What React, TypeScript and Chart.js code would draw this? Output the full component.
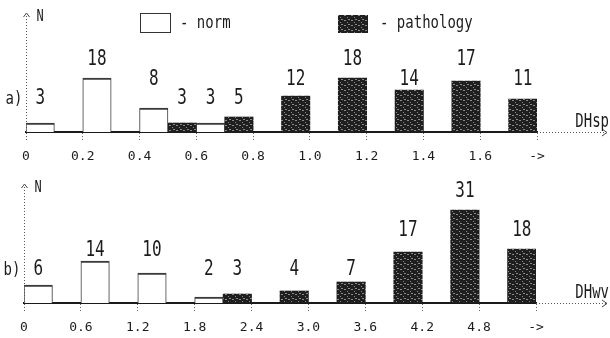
import React, { useEffect, useRef } from "react";
import { Chart, registerables } from "chart.js";
Chart.register(...registerables);

// ---- data ----
const ticksA = ["0", "0.2", "0.4", "0.6", "0.8", "1.0", "1.2", "1.4", "1.6", "->"];
const normA = [3, 18, 8, 3, null, null, null, null, null];
const pathA = [null, null, 3, 5, 12, 18, 14, 17, 11];

const ticksB = ["0", "0.6", "1.2", "1.8", "2.4", "3.0", "3.6", "4.2", "4.8", "->"];
const normB = [6, 14, 10, 2, null, null, null, null, null];
const pathB = [null, null, null, 3, 4, 7, 17, 31, 18];

const seriesNames = ["norm", "pathology"];

const MONO = "'DejaVu Sans Mono', 'Liberation Mono', monospace";
const INK = "#1c1c1c";

function makePattern(): CanvasPattern | string {
  const c = document.createElement("canvas");
  c.width = 7;
  c.height = 5;
  const g = c.getContext("2d");
  if (!g) return "#222";
  g.fillStyle = "#1f1f1f";
  g.fillRect(0, 0, 7, 5);
  g.fillStyle = "#8a8a8a";
  g.fillRect(1, 0, 2, 1);
  g.fillRect(4, 2, 1, 1);
  g.fillRect(5, 4, 2, 1);
  const p = g.createPattern(c, "repeat");
  return p || "#222";
}

function stretchText(ctx: CanvasRenderingContext2D, text: string, x: number, y: number, size: number, align: CanvasTextAlign, sy: number) {
  ctx.save();
  ctx.translate(x, y);
  ctx.scale(1, sy);
  ctx.font = `${size}px ${MONO}`;
  ctx.textAlign = align;
  ctx.textBaseline = "middle";
  ctx.fillStyle = INK;
  ctx.fillText(text, 0, 0);
  ctx.restore();
}

const overlayPlugin = {
  id: "overlay",
  afterDatasetsDraw(chart: any) {
    const ctx = chart.ctx as CanvasRenderingContext2D;
    // value labels, snapped to printer text rows
    chart.data.datasets.forEach((ds: any, di: number) => {
      const meta = chart.getDatasetMeta(di);
      meta.data.forEach((el: any, j: number) => {
        const v = ds.data[j];
        if (v === null || v === undefined) return;
        const h = el.base - el.y;
        let k = 0;
        while (h + 9.5 >= 33 + 19.5 * k) k++;
        const ly = el.base - (33 + 19.5 * k);
        stretchText(ctx, String(v), el.x, ly, 16, "center", 1.3);
      });
    });
  },
  afterDraw(chart: any) {
    const ctx = chart.ctx as CanvasRenderingContext2D;
    const o = chart.options.plugins.overlay;
    const { left, right, top, bottom } = chart.chartArea;
    ctx.save();
    ctx.strokeStyle = "#555";
    ctx.lineWidth = 1;
    ctx.setLineDash([1, 2]);
    // y axis
    ctx.beginPath();
    ctx.moveTo(left + 0.5, bottom + 8);
    ctx.lineTo(left + 0.5, top + 2);
    ctx.stroke();
    // x axis extension
    ctx.beginPath();
    ctx.moveTo(right, bottom + 0.5);
    ctx.lineTo(chart.width - 4, bottom + 0.5);
    ctx.stroke();
    ctx.setLineDash([]);
    // arrow heads
    ctx.strokeStyle = "#444";
    ctx.beginPath();
    ctx.moveTo(left - 2.5, top + 5);
    ctx.lineTo(left + 0.5, top + 1);
    ctx.lineTo(left + 3.5, top + 5);
    ctx.moveTo(chart.width - 8, bottom - 3);
    ctx.lineTo(chart.width - 3, bottom + 0.5);
    ctx.lineTo(chart.width - 8, bottom + 4);
    ctx.stroke();
    ctx.restore();

    // axis names
    stretchText(ctx, "N", left + 14, top + 5, 12, "center", 1.35);
    stretchText(ctx, o.axisName, chart.width - 1, bottom - 10, 14, "right", 1.35);
    stretchText(ctx, o.panel, left - 12, bottom - 32, 14, "center", 1.2);

    if (o.legend) {
      const pat = chart.data.datasets[1].backgroundColor;
      ctx.save();
      ctx.fillStyle = "#fff";
      ctx.fillRect(140, 13, 30, 19);
      ctx.strokeStyle = "#333";
      ctx.lineWidth = 1;
      ctx.strokeRect(140.5, 13.5, 30, 19);
      ctx.fillStyle = pat;
      ctx.fillRect(338, 15, 30, 18);
      ctx.restore();
      stretchText(ctx, "- " + chart.data.datasets[0].label, 180, 24, 14, "left", 1.2);
      stretchText(ctx, "- " + chart.data.datasets[1].label, 380, 24, 14, "left", 1.2);
    }
  },
};

type PanelProps = {
  ticks: string[];
  norm: (number | null)[];
  path: (number | null)[];
  panel: string;
  axisName: string;
  legend: boolean;
  top: number;
  pad: { left: number; right: number; top: number; bottom: number };
};

const CANVAS_H = 176;

function Panel(p: PanelProps) {
  const ref = useRef<HTMLCanvasElement | null>(null);
  useEffect(() => {
    if (!ref.current) return;
    const pattern = makePattern();
    const cats = p.ticks.slice(0, -1).map((t, i) => `${t}–${p.ticks[i + 1]}`);
    const chart = new Chart(ref.current, {
      type: "bar",
      data: {
        labels: cats,
        datasets: [
          {
            label: seriesNames[0],
            data: p.norm as any,
            backgroundColor: "#ffffff",
            borderColor: "#3a3a3a",
            borderWidth: { top: 2, left: 1, right: 1, bottom: 0 } as any,
            borderSkipped: false,
            xAxisID: "x",
            yAxisID: "y",
          },
          {
            label: seriesNames[1],
            data: p.path as any,
            backgroundColor: pattern as any,
            borderColor: "#1a1a1a",
            borderWidth: 0,
            xAxisID: "x",
            yAxisID: "y",
          },
        ],
      },
      options: {
        responsive: false,
        animation: false,
        layout: { padding: p.pad },
        datasets: { bar: { categoryPercentage: 1, barPercentage: 1 } },
        scales: {
          x: { type: "category", display: false, offset: true },
          xt: {
            type: "linear",
            position: "bottom",
            offset: false,
            min: 0,
            max: p.ticks.length - 1,
            ticks: {
              stepSize: 1,
              autoSkip: false,
              maxRotation: 0,
              padding: 10,
              color: INK,
              font: { family: MONO, size: 13, lineHeight: 1 },
              callback: (v: any) => p.ticks[Math.round(Number(v))] ?? "",
            },
            grid: {
              display: true,
              offset: false,
              drawOnChartArea: false,
              drawTicks: true,
              tickLength: 8,
              color: "#666",
              tickBorderDash: [1, 2],
            },
            border: { display: true, color: "#1a1a1a", width: 2 },
          },
          y: { display: false, min: 0, max: 40 },
        },
        plugins: {
          legend: { display: false },
          tooltip: { enabled: false },
          overlay: { panel: p.panel, axisName: p.axisName, legend: p.legend },
        } as any,
      },
      plugins: [overlayPlugin as any],
    });
    return () => chart.destroy();
  }, []);
  return (
    <div style={{ position: "absolute", left: 0, top: p.top, width: 610, height: CANVAS_H }}>
      <canvas ref={ref} width={610} height={CANVAS_H} style={{ display: "block" }} />
    </div>
  );
}

export default function App() {
  return (
    <div style={{ position: "fixed", left: 0, top: 0, width: 610, height: 338, background: "#fff", overflow: "hidden" }}>
      <Panel ticks={ticksA} norm={normA} path={pathA} panel="a)" axisName="DHsp" legend={true} top={0}
        pad={{ left: 26, right: 73, top: 12, bottom: 3 }} />
      <Panel ticks={ticksB} norm={normB} path={pathB} panel="b)" axisName="DHwv" legend={false} top={169}
        pad={{ left: 24, right: 74, top: 14, bottom: 1 }} />
    </div>
  );
}
